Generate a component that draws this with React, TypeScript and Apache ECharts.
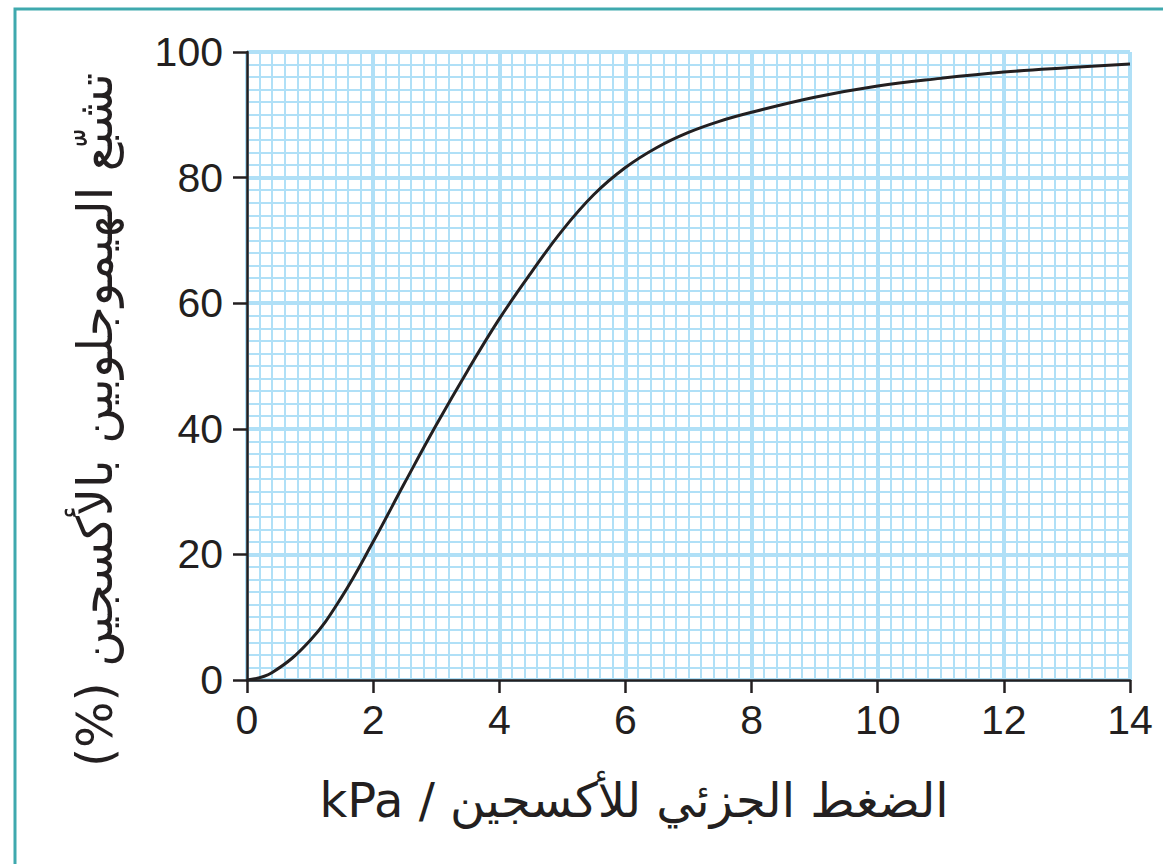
import React, { useEffect, useRef } from "react";
import * as echarts from "echarts";

const pressureKPa = [0, 0.4, 1, 1.5, 2, 2.5, 3, 3.5, 4, 4.5, 5, 5.5, 6, 6.5, 7, 7.5, 8, 9, 10, 11, 12, 13, 14];
const saturationPct = [0, 1.2, 6.3, 13.2, 22.0, 31.4, 40.6, 49.3, 57.5, 64.8, 71.6, 77.3, 81.6, 84.8, 87.2, 89.0, 90.4, 92.8, 94.6, 95.8, 96.8, 97.5, 98.1];

const xTitle = "kPa / الضغط الجزئي للأكسجين";
const yTitle = "(%) تشبّع الهيموجلوبين بالأكسجين";

const INK = "#231f20";
const GRIDBLUE = "#b0e0f7";

export default function App() {
  const ref = useRef<HTMLDivElement>(null);
  useEffect(() => {
    if (!ref.current) return;
    const chart = echarts.init(ref.current, null, { renderer: "svg" });
    const labelFont = { color: INK, fontSize: 41, fontFamily: "Liberation Sans, Arial, sans-serif" };
    chart.setOption({
      animation: false,
      backgroundColor: "#ffffff",
      grid: { left: 247, right: 33, top: 52, bottom: 184 },
      xAxis: {
        type: "value",
        min: 0,
        max: 14,
        interval: 2,
        axisLine: { show: true, lineStyle: { color: INK, width: 2.5 } },
        axisTick: { show: true, inside: false, length: 13, lineStyle: { color: INK, width: 2.5 } },
        axisLabel: { ...labelFont, margin: 19 },
        splitLine: { show: true, lineStyle: { color: GRIDBLUE, width: 4 } },
        minorTick: { show: false, splitNumber: 10 },
        minorSplitLine: { show: true, lineStyle: { color: GRIDBLUE, width: 2 } },
      },
      yAxis: {
        type: "value",
        min: 0,
        max: 100,
        interval: 20,
        axisLine: { show: true, lineStyle: { color: INK, width: 2.5 } },
        axisTick: { show: true, inside: false, length: 14, lineStyle: { color: INK, width: 2.5 } },
        axisLabel: { ...labelFont, margin: 24 },
        splitLine: { show: true, lineStyle: { color: GRIDBLUE, width: 4 } },
        minorTick: { show: false, splitNumber: 10 },
        minorSplitLine: { show: true, lineStyle: { color: GRIDBLUE, width: 2 } },
      },
      series: [
        {
          type: "line",
          data: pressureKPa.map((x, i) => [x, saturationPct[i]]),
          smooth: 0.4,
          showSymbol: false,
          symbol: "none",
          lineStyle: { color: INK, width: 3 },
          z: 5,
        },
      ],
      graphic: [
        {
          type: "rect",
          shape: { x: 15, y: 9, width: 1300, height: 1000 },
          style: { fill: "none", stroke: "#3fa9ae", lineWidth: 3 },
          silent: true,
        },
        {
          type: "text",
          x: 634,
          y: 800,
          style: {
            text: xTitle,
            fill: INK,
            fontSize: 48,
            fontFamily: "DejaVu Sans, Liberation Sans, sans-serif",
            align: "center",
            verticalAlign: "middle",
          },
        },
        {
          type: "text",
          x: 95,
          y: 420,
          rotation: Math.PI / 2,
          style: {
            text: yTitle,
            fill: INK,
            fontSize: 49,
            fontFamily: "DejaVu Sans, Liberation Sans, sans-serif",
            align: "center",
            verticalAlign: "middle",
          },
        },
      ],
    });
    return () => chart.dispose();
  }, []);
  return (
    <div
      ref={ref}
      style={{ position: "absolute", left: 0, top: 0, width: 1163, height: 864 }}
    />
  );
}
